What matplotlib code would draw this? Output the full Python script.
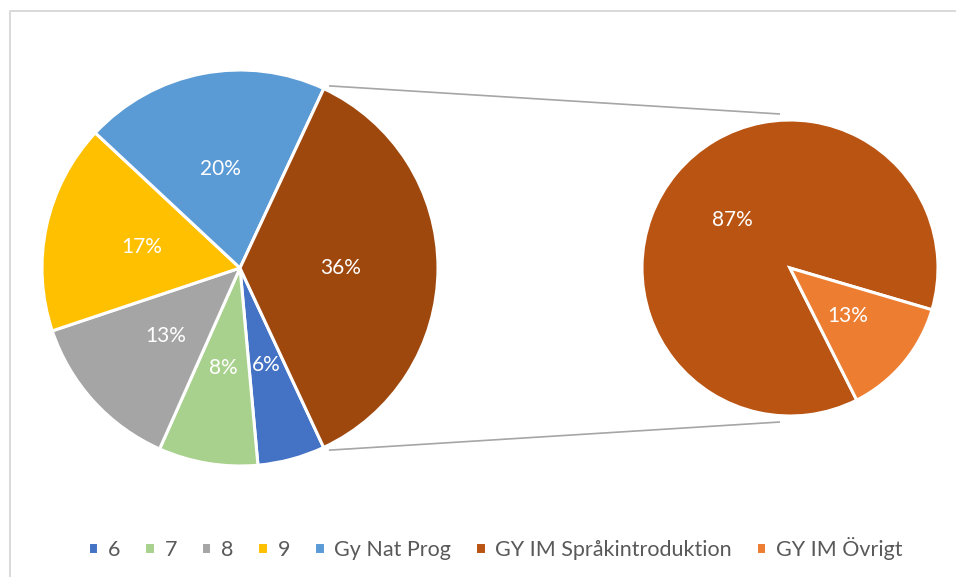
import numpy as np
import matplotlib
matplotlib.use("Agg")
import matplotlib.pyplot as plt

plt.rcParams["font.family"] = ["Lato", "DejaVu Sans"]

# left pie: grades + the combined "GY IM" share
main_labels = ["6", "7", "8", "9", "Gy Nat Prog"]
main_values = [5.5, 8.1, 13.2, 17.1, 20.0]
other_value = 36.1
main_colors = ["#4472C4", "#A9D18E", "#A5A5A5", "#FFC000", "#5B9BD5"]
other_color = "#9E480E"

# right pie: breakdown of the combined share
sub_labels = ["GY IM Språkintroduktion", "GY IM Övrigt"]
sub_values = [87, 13]
sub_colors = ["#BA5413", "#ED7D31"]

W, H = 956, 577
fig = plt.figure(figsize=(W / 100, H / 100), dpi=100)
ax = fig.add_axes([0, 0, 1, 1])

c1, r1 = (240, 309), 198
c2, r2 = (790, 309), 148
start1 = -65
start2 = -16.4

wp = dict(edgecolor="white", linewidth=2.2)
tp = dict(color="white", fontsize=15)

w1, _, _ = ax.pie(main_values + [other_value], colors=main_colors + [other_color],
                  center=c1, radius=r1, startangle=start1, counterclock=False,
                  autopct="%1.0f%%", pctdistance=0.51, wedgeprops=wp, textprops=tp)
w2, _, _ = ax.pie(sub_values, colors=sub_colors, center=c2, radius=r2,
                  startangle=start2, counterclock=True,
                  autopct="%1.0f%%", pctdistance=0.51, wedgeprops=wp, textprops=tp)

# connector lines from the combined wedge edges to the second pie
other = w1[-1]
for ang, sign in [(other.theta1, -1), (other.theta2, 1)]:
    a = np.deg2rad(ang)
    x0 = c1[0] + (r1 + 3) * np.cos(a) + 4
    y0 = c1[1] + (r1 + 3) * np.sin(a)
    x1 = c2[0] - 10
    y1 = c2[1] + sign * (r2 + 6)
    ax.plot([x0, x1], [y0, y1], color="#A6A6A6", lw=1.2, solid_capstyle="butt")

# chart frame (only top/left edges fall inside the image)
ax.plot([10.5, 10.5, W + 5], [-5, H - 10.5, H - 10.5], color="#D9D9D9", lw=1.4)

handles = list(w1[:5]) + list(w2)
labels = main_labels + sub_labels
fig.legend(handles, labels, loc="center", bbox_to_anchor=(495 / W, 1 - 548 / H),
           ncol=7, frameon=False, fontsize=15.5, labelcolor="#595959",
           handlelength=0.5, handleheight=0.5, handletextpad=0.45,
           columnspacing=1.1, borderpad=0)

ax.set_xlim(0, W)
ax.set_ylim(0, H)
ax.set_aspect("auto")
ax.axis("off")

fig.savefig("out.png", dpi=100)
